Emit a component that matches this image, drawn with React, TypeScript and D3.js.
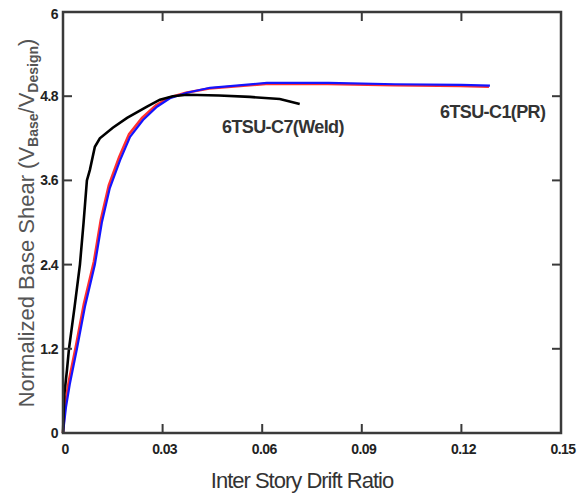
import React from "react";
import * as d3 from "d3";

// Inter-story drift ratio (x) vs normalized base shear (y)
const weldDrift = [0, 0.0004, 0.0012, 0.0018, 0.0035, 0.0051, 0.0062, 0.0072, 0.0081, 0.0096, 0.0111, 0.015, 0.0193, 0.0253, 0.0292, 0.0331, 0.0373, 0.047, 0.0563, 0.0653, 0.0713];
const weldShear = [0, 0.55, 0.9, 1.2, 1.8, 2.4, 3.0, 3.6, 3.75, 4.08, 4.2, 4.35, 4.49, 4.65, 4.75, 4.8, 4.82, 4.81, 4.79, 4.76, 4.69];

const prDrift = [0, 0.0009, 0.0021, 0.0042, 0.0066, 0.0096, 0.0117, 0.0141, 0.0172, 0.0202, 0.0241, 0.0283, 0.0322, 0.0373, 0.0443, 0.0614, 0.08, 0.1, 0.12, 0.1286];
const prShearBlue = [0, 0.37, 0.71, 1.2, 1.8, 2.4, 3.0, 3.49, 3.89, 4.22, 4.46, 4.65, 4.77, 4.85, 4.92, 4.99, 4.99, 4.97, 4.96, 4.95];
const prShearRed = [0, 0.4, 0.75, 1.24, 1.84, 2.44, 3.04, 3.53, 3.93, 4.26, 4.49, 4.67, 4.78, 4.85, 4.91, 4.975, 4.975, 4.955, 4.945, 4.935];

const xTicks = [0, 0.03, 0.06, 0.09, 0.12, 0.15];
const xTickLabels = ["0", "0.03", "0.06", "0.09", "0.12", "0.15"];
const yTicks = [0, 1.2, 2.4, 3.6, 4.8, 6];
const yTickLabels = ["0", "1.2", "2.4", "3.6", "4.8", "6"];

const W = 583;
const H = 496;
const L = 63, R = 561, T = 12, B = 433;

export default function App() {
  const x = d3.scaleLinear().domain([0, 0.15]).range([L, R]);
  const y = d3.scaleLinear().domain([0, 6]).range([B, T]);
  const line = d3
    .line<[number, number]>()
    .x((d) => x(d[0]))
    .y((d) => y(d[1]));
  const weld = weldDrift.map((d, i) => [d, weldShear[i]] as [number, number]);
  const blue = prDrift.map((d, i) => [d, prShearBlue[i]] as [number, number]);
  const red = prDrift.map((d, i) => [Math.max(0, d - 0.0003), prShearRed[i]] as [number, number]);
  const axisColor = "#3a3a3a";
  const tickLen = 9;
  const font = "'Liberation Sans', Arial, sans-serif";

  return (
    <div style={{ position: "absolute", left: 0, top: 0 }}>
      <svg width={W} height={H} style={{ display: "block", background: "#fff" }}>
        {/* curves */}
        <path d={line(red) || ""} fill="none" stroke="#ff3030" strokeWidth={2.6} />
        <path d={line(blue) || ""} fill="none" stroke="#1414ff" strokeWidth={2.2} />
        <path d={line(weld) || ""} fill="none" stroke="#000" strokeWidth={2.6} />

        {/* frame */}
        <rect x={L} y={T} width={R - L} height={B - T} fill="none" stroke={axisColor} strokeWidth={2.5} />
        {xTicks.map((t, i) => (
          <g key={"xt" + i}>
            <line x1={x(t)} x2={x(t)} y1={B} y2={B - tickLen} stroke={axisColor} strokeWidth={2} />
            <line x1={x(t)} x2={x(t)} y1={T} y2={T + tickLen} stroke={axisColor} strokeWidth={2} />
            <text
              x={x(t) + 2}
              y={454}
              textAnchor="middle"
              fontFamily={font}
              fontWeight="bold"
              fontSize={14}
              letterSpacing={-0.6}
              fill="#222"
            >
              {xTickLabels[i]}
            </text>
          </g>
        ))}
        {yTicks.map((t, i) => (
          <g key={"yt" + i}>
            <line x1={L} x2={L + tickLen} y1={y(t)} y2={y(t)} stroke={axisColor} strokeWidth={2} />
            <line x1={R} x2={R - tickLen} y1={y(t)} y2={y(t)} stroke={axisColor} strokeWidth={2} />
            <text
              x={58}
              y={y(t) + (i === yTicks.length - 1 ? 7 : 5)}
              textAnchor="end"
              fontFamily={font}
              fontWeight="bold"
              fontSize={14}
              letterSpacing={-0.6}
              fill="#222"
            >
              {yTickLabels[i]}
            </text>
          </g>
        ))}

        {/* axis titles */}
        <text
          x={302}
          y={488}
          textAnchor="middle"
          fontFamily={font}
          fontSize={22}
          letterSpacing={-1}
          fill="#333"
        >
          Inter Story Drift Ratio
        </text>
        <text
          transform="translate(34,223) rotate(-90)"
          textAnchor="middle"
          fontFamily={font}
          fontSize={22}
          fill="#555"
        >
          Normalized Base Shear (V
          <tspan fontSize={14} fontWeight="bold" dy={4}>Base</tspan>
          <tspan dy={-4}>/V</tspan>
          <tspan fontSize={14} fontWeight="bold" dy={4}>Design</tspan>
          <tspan dy={-4}>)</tspan>
        </text>

        {/* series labels */}
        <text x={222} y={133} fontFamily={font} fontWeight="bold" fontSize={18} letterSpacing={-0.6} fill="#333">
          6TSU-C7(Weld)
        </text>
        <text x={440} y={118} fontFamily={font} fontWeight="bold" fontSize={18} letterSpacing={-0.6} fill="#333">
          6TSU-C1(PR)
        </text>
      </svg>
    </div>
  );
}
